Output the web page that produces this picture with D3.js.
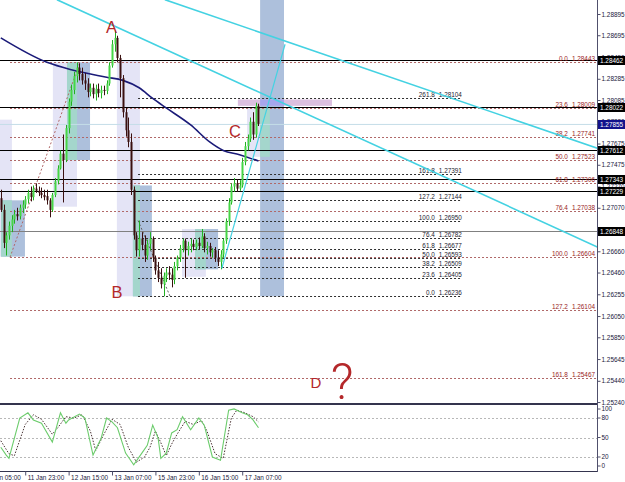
<!DOCTYPE html>
<html>
<head>
<meta charset="utf-8">
<script src="https://cdn.jsdelivr.net/npm/d3@7"></script>
<style>
body { margin: 0; background: #fff; }
svg { display: block; font-family: "Liberation Sans", Arial, sans-serif; }
</style>
</head>
<body>
<div id="chart"></div>
<script>
// H1 candles, [open, high, low, close], bar index = position in array
var candles = [
  [1.2716,1.2724,1.2703,1.2705],[1.2705,1.2710,1.2669,1.2674],[1.2674,1.2684,1.2662,1.2681],[1.2681,1.2694,1.2677,1.2690],
  [1.2690,1.2700,1.2684,1.2696],[1.2696,1.2705,1.2692,1.2701],[1.2701,1.2707,1.2695,1.2699],[1.2699,1.2710,1.2696,1.2707],
  [1.2707,1.2714,1.2702,1.2710],[1.2710,1.2718,1.2706,1.2715],[1.2715,1.2724,1.2711,1.2721],[1.2721,1.2727,1.2713,1.2717],
  [1.2717,1.2728,1.2714,1.2725],[1.2725,1.2730,1.2721,1.2723],[1.2723,1.2727,1.2718,1.2721],[1.2721,1.2726,1.2716,1.2719],
  [1.2719,1.2724,1.2714,1.2717],[1.2718,1.2724,1.2710,1.2714],[1.2714,1.2716,1.2698,1.2705],[1.2705,1.2721,1.2703,1.2719],
  [1.2719,1.2735,1.2717,1.2732],[1.2732,1.2747,1.2729,1.2744],[1.2744,1.2761,1.2743,1.2758],[1.2758,1.2776,1.2712,1.2752],
  [1.2752,1.2785,1.2750,1.2782],[1.2782,1.2810,1.2777,1.2807],[1.2807,1.2823,1.2803,1.2818],[1.2818,1.2835,1.2814,1.2831],
  [1.2831,1.2844,1.2825,1.2839],[1.2839,1.2843,1.2827,1.2833],[1.2833,1.2839,1.2823,1.2827],[1.2827,1.2834,1.2818,1.2824],
  [1.2824,1.2829,1.2811,1.2816],[1.2816,1.2824,1.2812,1.2820],[1.2820,1.2824,1.2810,1.2814],[1.2814,1.2823,1.2808,1.2819],
  [1.2819,1.2824,1.2811,1.2815],[1.2815,1.2822,1.2810,1.2818],[1.2818,1.2822,1.2813,1.2817],[1.2817,1.2827,1.2814,1.2824],
  [1.2824,1.2844,1.2822,1.2841],[1.2841,1.2865,1.2839,1.2861],[1.2861,1.2874,1.2854,1.2867],[1.2867,1.2869,1.2844,1.2848],
  [1.2848,1.2851,1.2811,1.2829],[1.2829,1.2832,1.2792,1.2797],[1.2797,1.2801,1.2774,1.2780],[1.2780,1.2792,1.2764,1.2769],
  [1.2769,1.2777,1.2719,1.2724],[1.2724,1.2727,1.2677,1.2681],[1.2681,1.2684,1.2661,1.2667],[1.2667,1.2695,1.2661,1.2678],
  [1.2678,1.2684,1.2667,1.2672],[1.2672,1.2681,1.2656,1.2662],[1.2662,1.2677,1.2658,1.2673],[1.2673,1.2684,1.2667,1.2678],
  [1.2678,1.2680,1.2656,1.2660],[1.2660,1.2662,1.2644,1.2648],[1.2648,1.2656,1.2637,1.2641],[1.2641,1.2650,1.2631,1.2635],
  [1.2635,1.2646,1.26236,1.2643],[1.2643,1.2650,1.2637,1.2646],[1.2646,1.2652,1.2639,1.2644],[1.2644,1.2650,1.2632,1.2639],
  [1.2639,1.2656,1.2635,1.2652],[1.2652,1.2662,1.2648,1.2660],[1.2660,1.2672,1.2656,1.2669],[1.2669,1.2678,1.2665,1.2676],
  [1.2676,1.2678,1.2641,1.2667],[1.2667,1.2675,1.2662,1.2671],[1.2671,1.2678,1.2665,1.2673],[1.2673,1.2677,1.2667,1.2670],
  [1.2670,1.2677,1.2667,1.2674],[1.2674,1.2679,1.2668,1.2671],[1.2671,1.2687,1.2669,1.2680],[1.2680,1.2683,1.2665,1.2669],
  [1.2669,1.2675,1.2663,1.2671],[1.2671,1.2674,1.2661,1.2665],[1.2665,1.2669,1.2660,1.2667],[1.2667,1.2670,1.2656,1.2660],
  [1.2660,1.2667,1.2652,1.2656],[1.2656,1.2667,1.2649,1.2663],[1.2663,1.2678,1.2660,1.2676],[1.2676,1.2697,1.2673,1.2694],
  [1.2694,1.2716,1.2690,1.2712],[1.2712,1.2730,1.2710,1.2727],[1.2727,1.2735,1.2722,1.2730],[1.2730,1.2734,1.2722,1.2725],
  [1.2725,1.2733,1.2723,1.2728],[1.2728,1.2754,1.2726,1.2750],[1.2750,1.2769,1.2747,1.2765],[1.2765,1.2776,1.2761,1.2772],
  [1.2772,1.2792,1.2769,1.2788],[1.2788,1.2797,1.2771,1.2776],[1.2776,1.2806,1.2773,1.2803],[1.2803,1.2805,1.2784,1.2786]
];

// moving average, [bar, price]
var maLine = [[0,1.2867],[17,1.2844],[26,1.2837],[39,1.2830],[45,1.2827],[51,1.2820],[56,1.2810],
  [61,1.2801],[70,1.2785],[77,1.2769],[82,1.2761],[88,1.2757],[95,1.2751]];

// stochastic %K and %D, [bar, value]
var stochK = [[0,35],[2,23],[3,18],[7,80],[10,88],[12,77],[15,72],[19,43],[22,88],[24,72],[25,77],[29,86],
  [31,80],[34,23],[37,49],[39,80],[41,74],[43,65],[46,26],[49,8],[52,26],[54,38],[56,69],[58,49],[59,18],
  [61,26],[63,57],[65,62],[67,82],[70,62],[73,80],[75,69],[78,20],[81,15],[84,92],[86,94],[89,88],[91,85],
  [93,77],[95,65]];
var stochD = [[0,45],[3,25],[5,22],[9,70],[12,85],[15,78],[19,55],[21,65],[24,82],[27,80],[30,85],[33,60],
  [35,30],[38,55],[41,78],[44,70],[47,35],[50,12],[53,20],[55,35],[57,60],[59,42],[61,22],[63,40],[65,55],
  [68,75],[71,70],[74,76],[76,60],[79,25],[82,18],[85,80],[87,92],[90,88],[93,82],[95,74]];
var stochLevels = [80, 50, 20];
var stochTicks = [100, 80, 50, 20, 0];

// fibonacci retracements
var fibALevels = [0.0, 23.6, 38.2, 50.0, 61.8, 76.4, 100.0, 127.2, 161.8];
var fibAPrices = [1.28443, 1.28009, 1.27741, 1.27523, 1.27306, 1.27038, 1.26604, 1.26104, 1.25467];
var fibAAnchor = [[3.4, 1.26604], [29.2, 1.28443]];
var fibBLevels = [0.0, 23.6, 38.2, 50.0, 61.8, 76.4, 100.0, 127.2, 161.8, 261.8];
var fibBPrices = [1.26236, 1.26405, 1.26509, 1.26593, 1.26677, 1.26782, 1.26950, 1.27144, 1.27391, 1.28104];
var fibBAnchor = [[50.6, 1.26950], [62.4, 1.26236]];
var fibBEnd = 170;

// horizontal lines
var blackLevels = [1.28462, 1.28022, 1.27612, 1.27343, 1.27229];
var greyLevels = [1.26848];
var bidPrice = 1.27855;

// trend lines, [[bar, price], [bar, price]]
var trendLines = [
  [[60.5, 1.2903], [220, 1.2763]],
  [[20.7, 1.2903], [220, 1.2670]],
  [[81.5, 1.2650], [104.8, 1.2861]]
];

// rectangles [bar0, bar1, priceTop, priceBottom, kind]
var boxes = [
  [-0.3, 4.1, 1.2790, 1.2661, "lav"], [0.1, 8.9, 1.2714, 1.2661, "steel"],
  [19.2, 28.1, 1.2844, 1.2708, "lav"], [24.4, 32.9, 1.2844, 1.2752, "steel"],
  [42.8, 51.3, 1.2846, 1.26236, "lav"], [48.7, 55.7, 1.2728, 1.26236, "steel"],
  [66.8, 75.6, 1.2687, 1.2642, "lav"], [71.6, 80.1, 1.2687, 1.2649, "steel"],
  [90.8, 99.2, 1.2802, 1.2755, "lav"], [95.6, 104.4, 1.2910, 1.26236, "steel"],
  [87.4, 122.1, 1.2809, 1.2803, "pink"]
];

// text marks [text, bar, price]
var letters = [["A", 40.8, 1.28716], ["B", 42.8, 1.2622], ["C", 86.3, 1.2774], ["D", 116.2, 1.2537]];
var question = ["?", 125.8, 1.2527];

var priceTicks = [1.28895,1.28695,1.28490,1.28285,1.28085,1.27880,1.27675,1.27475,1.27270,1.27070,
  1.26865,1.26660,1.26460,1.26255,1.26050,1.25850,1.25645,1.25440,1.25240];
var timeTicks = [-7, 9, 25, 41, 57, 73, 89];
var timeLabels = ["11 Jan 05:00","11 Jan 23:00","12 Jan 15:00","13 Jan 07:00","15 Jan 23:00","16 Jan 15:00","17 Jan 07:00"];

var width = 625, height = 482;
var plotRight = 597, mainBottom = 403, subBottom = 471;
var barStep = 2.7125;

var x = d3.scaleLinear().domain([0, 95]).range([0.8, 0.8 + 95 * barStep]);
var y = d3.scaleLinear().domain([1.25231, 1.29027]).range([mainBottom, 0]);
var ys = d3.scaleLinear().domain([0, 100]).range([470, 405]);

var svg = d3.select("#chart").append("svg")
    .attr("width", width)
    .attr("height", height);

svg.append("rect").attr("width", width).attr("height", height).attr("fill", "#fff");

svg.append("defs").append("clipPath").attr("id", "mainClip")
  .append("rect").attr("x", 0).attr("y", 0).attr("width", plotRight).attr("height", mainBottom);
svg.select("defs").append("clipPath").attr("id", "subClip")
  .append("rect").attr("x", 0).attr("y", mainBottom + 2).attr("width", plotRight).attr("height", subBottom - mainBottom - 2);

var main = svg.append("g").attr("clip-path", "url(#mainClip)");

// rectangles and their overlaps
var boxColor = { lav: "#e4e4f6", steel: "#adc0dc", pink: "#dcc0e0" };
var mixColor = { "lav+steel": "#a4d6cc", "pink+steel": "#a6a6ec" };

main.selectAll("rect.box")
    .data(boxes)
    .enter()
    .append("rect")
    .attr("class", "box")
    .attr("x", function(d){ return x(d[0]); })
    .attr("width", function(d){ return x(d[1]) - x(d[0]); })
    .attr("y", function(d){ return y(d[2]); })
    .attr("height", function(d){ return y(d[3]) - y(d[2]); })
    .attr("fill", function(d){ return boxColor[d[4]]; });

var overlaps = [];
boxes.forEach(function(a){
  boxes.forEach(function(b){
    var key = a[4] + "+" + b[4];
    if (!mixColor[key]) return;
    var b0 = Math.max(a[0], b[0]), b1 = Math.min(a[1], b[1]);
    var pt = Math.min(a[2], b[2]), pb = Math.max(a[3], b[3]);
    if (b1 > b0 && pt > pb) overlaps.push([b0, b1, pt, pb, key]);
  });
});
main.selectAll("rect.mix")
    .data(overlaps)
    .enter()
    .append("rect")
    .attr("x", function(d){ return x(d[0]); })
    .attr("width", function(d){ return x(d[1]) - x(d[0]); })
    .attr("y", function(d){ return y(d[2]); })
    .attr("height", function(d){ return y(d[3]) - y(d[2]); })
    .attr("fill", function(d){ return mixColor[d[4]]; });

// horizontal lines
main.append("line")
    .attr("x1", 0).attr("x2", plotRight)
    .attr("y1", y(bidPrice)).attr("y2", y(bidPrice))
    .attr("stroke", "#c4dde8");
main.selectAll("line.blk")
    .data(blackLevels)
    .enter()
    .append("line")
    .attr("x1", 0).attr("x2", plotRight)
    .attr("y1", function(d){ return Math.round(y(d)) + 0.5; })
    .attr("y2", function(d){ return Math.round(y(d)) + 0.5; })
    .attr("stroke", "#000");
main.selectAll("line.gry")
    .data(greyLevels)
    .enter()
    .append("line")
    .attr("x1", 0).attr("x2", plotRight)
    .attr("y1", function(d){ return Math.round(y(d)) + 0.5; })
    .attr("y2", function(d){ return Math.round(y(d)) + 0.5; })
    .attr("stroke", "#808080");

// fib label: level, gap, price
function fibLabel(sel, levels) {
  sel.append("tspan").text(function(d, k){ return levels[k].toFixed(1); });
  sel.append("tspan").attr("dx", 4).text(function(d){ return d.toFixed(5); });
}

// fibonacci A (red)
main.selectAll("line.fibA")
    .data(fibAPrices)
    .enter()
    .append("line")
    .attr("x1", x(fibAAnchor[0][0])).attr("x2", plotRight)
    .attr("y1", function(d){ return Math.round(y(d)) + 0.5; })
    .attr("y2", function(d){ return Math.round(y(d)) + 0.5; })
    .attr("stroke", "#b06868")
    .attr("stroke-dasharray", "2,2");
main.append("line")
    .attr("x1", x(fibAAnchor[0][0])).attr("y1", y(fibAAnchor[0][1]))
    .attr("x2", x(fibAAnchor[1][0])).attr("y2", y(fibAAnchor[1][1]))
    .attr("stroke", "#b06868")
    .attr("stroke-dasharray", "2,2");
main.selectAll("text.fibA")
    .data(fibAPrices)
    .enter()
    .append("text")
    .attr("x", plotRight - 2)
    .attr("y", function(d){ return Math.round(y(d)) - 1; })
    .attr("text-anchor", "end")
    .attr("fill", "#9a2424")
    .style("font-size", "6.4px")
    .call(fibLabel, fibALevels);

// fibonacci B (black)
main.selectAll("line.fibB")
    .data(fibBPrices)
    .enter()
    .append("line")
    .attr("x1", x(fibBAnchor[0][0])).attr("x2", x(fibBEnd))
    .attr("y1", function(d){ return Math.round(y(d)) + 0.5; })
    .attr("y2", function(d){ return Math.round(y(d)) + 0.5; })
    .attr("stroke", "#303030")
    .attr("stroke-dasharray", "2,2");
main.append("line")
    .attr("x1", x(fibBAnchor[0][0])).attr("y1", y(fibBAnchor[0][1]))
    .attr("x2", x(fibBAnchor[1][0])).attr("y2", y(fibBAnchor[1][1]))
    .attr("stroke", "#606060")
    .attr("stroke-dasharray", "2,2");
main.selectAll("text.fibB")
    .data(fibBPrices)
    .enter()
    .append("text")
    .attr("x", x(fibBEnd))
    .attr("y", function(d){ return Math.round(y(d)) - 1; })
    .attr("text-anchor", "end")
    .attr("fill", "#1c1c30")
    .style("font-size", "6.4px")
    .call(fibLabel, fibBLevels);

// moving average
main.append("path")
    .datum(maLine)
    .attr("fill", "none")
    .attr("stroke", "#1a1a78")
    .attr("stroke-width", 1.6)
    .attr("d", d3.line()
      .x(function(d){ return x(d[0]); })
      .y(function(d){ return y(d[1]); })
      .curve(d3.curveMonotoneX));

// candles
var bars = main.selectAll("g.candle")
    .data(candles)
    .enter()
    .append("g");
bars.append("line")
    .attr("x1", function(d, i){ return Math.round(x(i)) + 0.5; })
    .attr("x2", function(d, i){ return Math.round(x(i)) + 0.5; })
    .attr("y1", function(d){ return y(d[1]); })
    .attr("y2", function(d){ return y(d[2]); })
    .attr("stroke", function(d){ return d[3] >= d[0] ? "#22b022" : "#3a1010"; });
bars.append("rect")
    .attr("x", function(d, i){ return Math.round(x(i)) - 0.5; })
    .attr("width", 2)
    .attr("y", function(d){ return y(Math.max(d[0], d[3])); })
    .attr("height", function(d){ return Math.max(1, Math.abs(y(d[0]) - y(d[3]))); })
    .attr("fill", function(d){ return d[3] >= d[0] ? "#46d646" : "#3a1010"; });

// trend lines
main.selectAll("line.trend")
    .data(trendLines)
    .enter()
    .append("line")
    .attr("x1", function(d){ return x(d[0][0]); })
    .attr("y1", function(d){ return y(d[0][1]); })
    .attr("x2", function(d){ return x(d[1][0]); })
    .attr("y2", function(d){ return y(d[1][1]); })
    .attr("stroke", "#44d2e2")
    .attr("stroke-width", function(d, k){ return k < 2 ? 1.6 : 1.2; });

// letters
main.selectAll("text.letter")
    .data(letters)
    .enter()
    .append("text")
    .attr("x", function(d){ return x(d[1]); })
    .attr("y", function(d){ return y(d[2]); })
    .attr("text-anchor", "middle")
    .attr("fill", "#b4282a")
    .style("font-size", function(d){ return d[0] === "D" ? "15px" : "16.5px"; })
    .text(function(d){ return d[0]; });
main.append("text")
    .attr("x", x(question[1]))
    .attr("y", y(question[2]))
    .attr("text-anchor", "middle")
    .attr("fill", "#b4282a")
    .style("font-family", "Roboto, 'Liberation Sans', sans-serif")
    .style("font-weight", 300)
    .style("font-size", "50px")
    .text(question[0]);

// stochastic panel
var sub = svg.append("g").attr("clip-path", "url(#subClip)");
sub.selectAll("line.lvl")
    .data(stochLevels)
    .enter()
    .append("line")
    .attr("x1", 0).attr("x2", plotRight)
    .attr("y1", function(d){ return Math.round(ys(d)) + 0.5; })
    .attr("y2", function(d){ return Math.round(ys(d)) + 0.5; })
    .attr("stroke", "#b8b8b8")
    .attr("stroke-dasharray", "2,2");
sub.append("path")
    .datum(stochD)
    .attr("fill", "none")
    .attr("stroke", "#4a3434")
    .attr("stroke-dasharray", "1.5,1.5")
    .attr("d", d3.line().x(function(d){ return x(d[0]); }).y(function(d){ return ys(d[1]); }));
sub.append("path")
    .datum(stochK)
    .attr("fill", "none")
    .attr("stroke", "#6ccc6c")
    .attr("stroke-width", 1.1)
    .attr("d", d3.line().x(function(d){ return x(d[0]); }).y(function(d){ return ys(d[1]); }));

// panel frames
svg.append("line").attr("x1", 0).attr("x2", plotRight).attr("y1", mainBottom + 1).attr("y2", mainBottom + 1)
    .attr("stroke", "#34344e").attr("stroke-width", 2);
svg.append("line").attr("x1", 0).attr("x2", plotRight).attr("y1", subBottom + 0.5).attr("y2", subBottom + 0.5)
    .attr("stroke", "#34344e");
svg.append("line").attr("x1", plotRight + 0.5).attr("x2", plotRight + 0.5).attr("y1", 0).attr("y2", subBottom + 1)
    .attr("stroke", "#50506c");

// price axis
var priceAxis = svg.append("g")
    .attr("transform", "translate(" + (plotRight + 0.5) + ",0)")
    .call(d3.axisRight(y).tickValues(priceTicks).tickFormat(d3.format(".5f")).tickSize(3).tickSizeOuter(0).tickPadding(1));
priceAxis.select(".domain").remove();
priceAxis.selectAll("line").attr("stroke", "#50506c");
priceAxis.selectAll("text").attr("fill", "#20203c").style("font-size", "6.4px").style("font-family", "Liberation Sans, Arial, sans-serif");

var markBoxes = svg.selectAll("g.mark")
    .data(blackLevels.concat(greyLevels).concat([bidPrice]))
    .enter()
    .append("g");
markBoxes.append("rect")
    .attr("x", plotRight + 1)
    .attr("width", width - plotRight - 1)
    .attr("y", function(d){ return Math.round(y(d)) - 4; })
    .attr("height", 9)
    .attr("fill", function(d){ return d === bidPrice ? "#12128c" : "#000"; });
markBoxes.append("text")
    .attr("x", plotRight + 3)
    .attr("y", function(d){ return Math.round(y(d)) + 2.8; })
    .attr("fill", "#fff")
    .style("font-size", "6.4px")
    .text(function(d){ return d.toFixed(5); });

// stochastic axis
var stochAxis = svg.append("g").attr("transform", "translate(" + (plotRight + 0.5) + ",0)");
stochAxis.selectAll("text")
    .data(stochTicks)
    .enter()
    .append("text")
    .attr("x", 4)
    .attr("y", function(d){ return Math.max(409, Math.min(466, ys(d))) + 2.3; })
    .attr("fill", "#20203c")
    .style("font-size", "6.4px")
    .text(function(d){ return d; });
stochAxis.selectAll("line")
    .data(stochTicks)
    .enter()
    .append("line")
    .attr("x1", 0).attr("x2", 3)
    .attr("y1", function(d){ return Math.max(409, Math.min(466, ys(d))); })
    .attr("y2", function(d){ return Math.max(409, Math.min(466, ys(d))); })
    .attr("stroke", "#50506c");

// time axis
var timeAxis = svg.append("g")
    .attr("transform", "translate(0," + (subBottom + 0.5) + ")")
    .call(d3.axisBottom(x).tickValues(timeTicks)
      .tickFormat(function(d, k){ return timeLabels[k]; })
      .tickSize(4).tickSizeOuter(0).tickPadding(0));
timeAxis.select(".domain").remove();
timeAxis.selectAll("line").attr("stroke", "#50506c");
timeAxis.selectAll("text")
    .attr("text-anchor", "start")
    .attr("x", 2)
    .attr("fill", "#20203c")
    .style("font-size", "6.4px")
    .style("font-family", "Liberation Sans, Arial, sans-serif");
</script>
</body>
</html>
